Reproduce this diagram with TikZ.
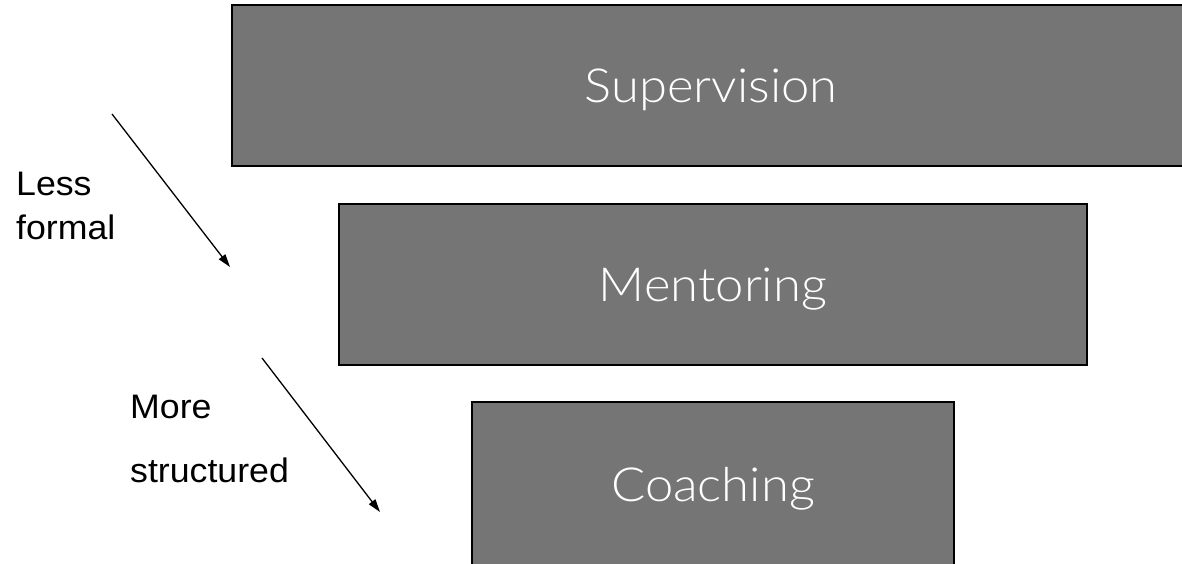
\documentclass[tikz,border=0pt]{standalone}
\usepackage{fontspec}
\setmainfont{Liberation Sans}[FakeStretch=1.05]
\newfontfamily\boxfont{Lato Light}[FakeStretch=1.08]
\usetikzlibrary{arrows.meta}
\begin{document}
\begin{tikzpicture}[x=1pt,y=-1pt,
  tier/.style={draw=black, line width=2pt, fill=boxgray, text=white, font=\boxfont\fontsize{47}{56}\selectfont, inner sep=0pt, text height=34pt, text depth=0pt},
  lbl/.style={align=left, anchor=north west, inner sep=0pt},
  trend/.style={line width=1.3pt, -{Triangle[length=13pt,width=8pt]}}]
\definecolor{boxgray}{HTML}{757575}
\useasboundingbox (0,0) rectangle (1182,563);
\node[tier, minimum width=958pt, minimum height=161pt] (sup) at (711,85.5) {Supervision};
\node[tier, minimum width=748pt, minimum height=161pt] (men) at (713,284.5) {Mentoring};
\node[tier, minimum width=482pt, minimum height=164pt] (coa) at (713,484) {Coaching};
\node[lbl, font=\fontsize{34}{44}\selectfont] (less) at (16,172) {Less\\formal};
\node[lbl, font=\fontsize{34}{64}\selectfont] (more) at (130,395) {More\\structured};
\coordinate (a1s) at (112,114);
\coordinate (a1e) at (230,267);
\coordinate (a2s) at (262,358);
\coordinate (a2e) at (380,512);
\draw[trend] (a1s) -- (a1e);
\draw[trend] (a2s) -- (a2e);
\end{tikzpicture}
\end{document}
